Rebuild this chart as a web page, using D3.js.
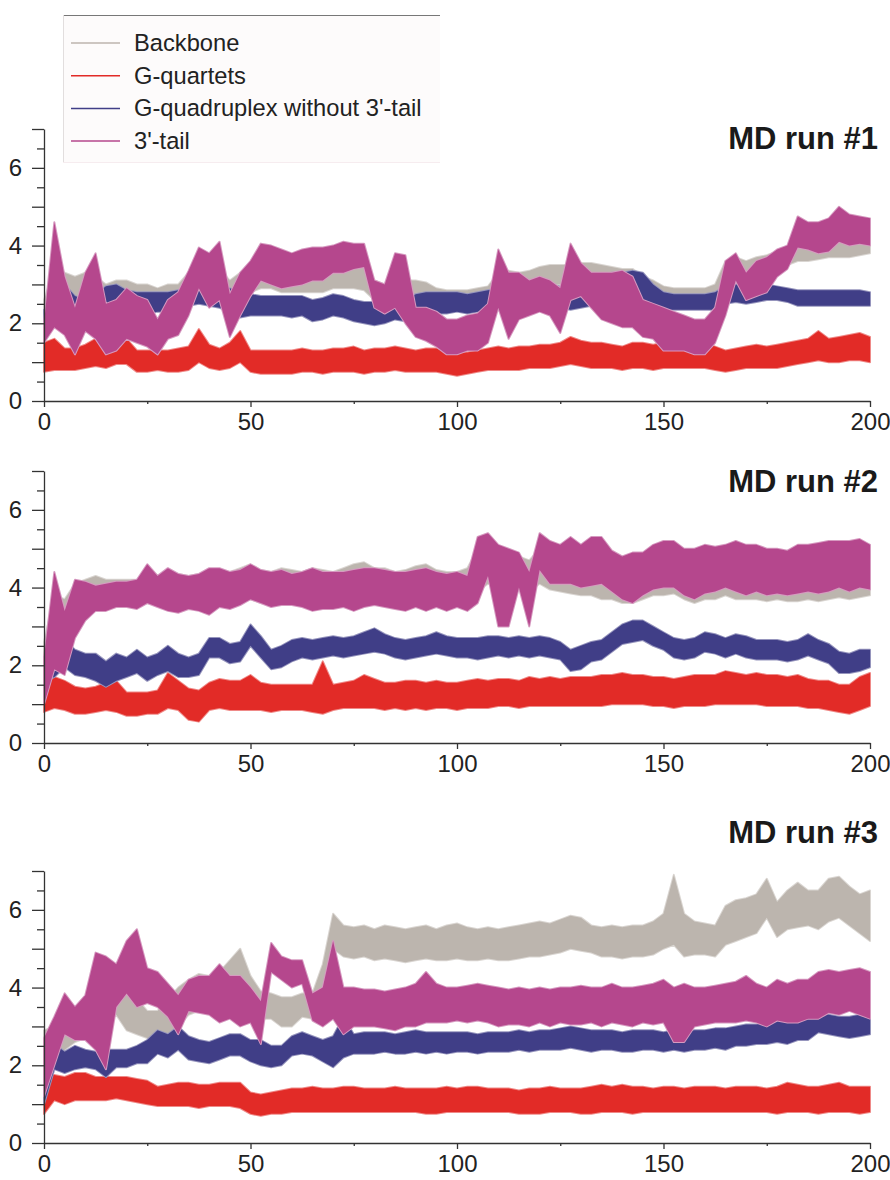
<!DOCTYPE html>
<html>
<head>
<meta charset="utf-8">
<script src="https://d3js.org/d3.v7.min.js"></script>
<style>
body { margin: 0; background: #fff; }
text { font-family: "Liberation Sans", Arial, sans-serif; fill: #222; }
.axis path, .axis line { stroke: #333; stroke-width: 1.3; }
.axis text { font-size: 24px; fill: #222; }
</style>
</head>
<body>
<svg id="chart" width="890" height="1180"></svg>
<script>
// sample times (ns), one value pair (low/high of the trace) every 2.5 ns
var time = d3.range(0, 201, 2.5);
var xTicks = [0, 50, 100, 150, 200];
var yTicks = [0, 2, 4, 6];
var seriesNames = ["Backbone", "G-quartets", "G-quadruplex without 3'-tail", "3'-tail"];
var runTitles = ["MD run #1", "MD run #2", "MD run #3"];

// ---- MD run #1
var run1BackboneLo = [1.9,2.4,2.6,2.6,2.5,2.4,2.3,2.4,2.4,2.4, 2.4,2.3,2.4,2.5,2.6,2.9,2.8,2.7,2.5,2.7, 2.8,2.9,2.9,2.8,2.8,2.8,2.8,2.8,2.9,2.9, 2.9,2.85,2.6,2.6,2.6,2.7,2.7,2.65,2.6,2.6, 2.6,2.6,2.6,2.65,2.8,2.85,2.8,2.85,2.95,3.0, 3.0,3.0,3.1,3.1,3.05,3.0,2.9,2.9,2.8,2.7, 2.6,2.55,2.55,2.55,2.55,2.6,3.0,3.1,3.1,3.15, 3.2,3.3,3.5,3.6,3.6,3.65,3.7,3.7,3.7,3.75, 3.8];
var run1BackboneHi = [2.6,3.4,3.3,3.2,3.3,3.2,3.0,3.1,3.1,3.0, 3.0,2.9,3.0,3.0,3.3,3.6,3.5,3.4,3.1,3.3, 3.5,3.6,3.6,3.5,3.5,3.5,3.45,3.5,3.5,3.5, 3.6,3.5,3.1,3.0,3.05,3.1,3.1,3.05,2.9,2.85, 2.85,2.85,2.9,2.95,3.3,3.35,3.3,3.35,3.45,3.5, 3.5,3.5,3.55,3.55,3.5,3.45,3.4,3.4,3.2,3.1, 2.95,2.9,2.9,2.9,2.9,3.0,3.6,3.7,3.6,3.7, 3.75,3.85,4.0,4.1,4.1,4.2,4.2,4.25,4.3,4.3, 4.3];
var run1QuartetsLo = [0.75,0.8,0.8,0.8,0.85,0.9,0.85,0.95,0.95,0.75, 0.75,0.8,0.75,0.75,0.8,1.0,0.85,0.8,0.85,1.0, 0.75,0.7,0.7,0.7,0.7,0.75,0.75,0.7,0.75,0.75, 0.75,0.7,0.75,0.75,0.8,0.75,0.75,0.75,0.75,0.7, 0.65,0.7,0.75,0.8,0.8,0.8,0.8,0.85,0.85,0.85, 0.9,0.95,0.9,0.85,0.85,0.85,0.8,0.85,0.85,0.8, 0.85,0.85,0.85,0.85,0.85,0.8,0.75,0.8,0.85,0.85, 0.85,0.85,0.9,0.95,1.0,1.05,1.0,1.0,1.05,1.05, 1.0];
var run1QuartetsHi = [1.5,1.6,1.35,1.35,1.45,1.6,1.35,1.7,1.6,1.3, 1.3,1.3,1.3,1.35,1.4,1.85,1.45,1.35,1.5,1.8, 1.3,1.3,1.3,1.3,1.3,1.35,1.3,1.3,1.35,1.35, 1.4,1.3,1.35,1.35,1.4,1.35,1.3,1.35,1.35,1.25, 1.25,1.25,1.3,1.35,1.4,1.35,1.4,1.4,1.45,1.45, 1.5,1.65,1.55,1.5,1.5,1.45,1.4,1.5,1.5,1.45, 1.5,1.55,1.5,1.5,1.5,1.4,1.3,1.35,1.4,1.45, 1.4,1.45,1.5,1.55,1.6,1.8,1.6,1.65,1.7,1.75, 1.65];
var run1QuadruplexLo = [1.55,2.0,2.35,2.2,2.1,2.2,2.35,2.4,2.3,2.25, 2.25,2.3,2.3,2.35,2.45,2.5,2.45,2.4,2.3,2.15, 2.2,2.2,2.2,2.2,2.15,2.2,2.05,2.1,2.2,2.15, 2.05,2.0,1.95,2.0,2.1,2.05,2.2,2.25,2.25,2.25, 2.3,2.25,2.3,2.3,2.35,2.35,2.35,2.35,2.4,2.4, 2.4,2.35,2.4,2.45,2.6,2.6,2.6,2.6,2.55,2.4, 2.35,2.35,2.35,2.35,2.35,2.35,2.5,2.55,2.5,2.55, 2.6,2.6,2.55,2.45,2.45,2.45,2.45,2.45,2.45,2.45, 2.45];
var run1QuadruplexHi = [2.35,2.55,3.0,2.7,2.6,2.75,2.95,3.0,2.85,2.8, 2.8,2.8,2.8,2.85,3.0,3.1,3.0,2.95,2.9,2.8, 2.75,2.7,2.7,2.7,2.7,2.7,2.6,2.65,2.75,2.7, 2.6,2.55,2.55,2.6,2.65,2.6,2.75,2.8,2.8,2.8, 2.8,2.75,2.8,2.85,2.9,2.9,2.9,2.9,2.95,3.0, 2.95,2.95,2.95,3.1,3.25,3.3,3.3,3.35,3.3,3.0, 2.8,2.75,2.75,2.75,2.75,2.8,2.95,3.0,2.95,3.0, 3.0,2.95,2.9,2.85,2.85,2.85,2.85,2.85,2.85,2.85, 2.8];
var run1TailLo = [1.5,1.9,1.7,1.2,1.8,1.6,1.2,1.3,1.6,1.5, 1.4,1.2,1.6,1.7,2.2,2.9,2.4,2.6,1.65,2.2, 2.7,3.1,3.0,2.9,2.95,3.0,3.1,3.1,3.3,3.3, 3.4,3.45,2.4,2.25,2.4,2.0,1.65,1.55,1.4,1.2, 1.2,1.3,1.3,1.5,2.4,1.6,2.1,2.2,2.3,2.2, 1.75,2.6,2.7,2.4,2.1,2.0,1.9,1.9,1.65,1.6, 1.3,1.3,1.3,1.2,1.2,1.5,2.2,3.1,2.6,2.7, 2.8,3.2,3.4,3.95,3.9,3.8,3.85,4.1,4.0,4.05, 4.0];
var run1TailHi = [2.0,4.6,3.2,2.4,3.3,3.8,2.5,2.6,2.9,2.7, 2.6,2.1,2.6,2.8,3.35,3.95,3.8,4.1,2.75,3.3, 3.6,4.05,4.0,3.9,3.8,3.9,3.95,3.95,4.0,4.1, 4.05,4.05,3.1,3.0,3.8,3.75,2.4,2.4,2.3,2.1, 2.1,2.2,2.25,2.5,3.9,3.3,3.3,3.1,3.2,3.1, 2.9,4.05,3.55,3.3,3.3,3.3,3.35,3.2,2.6,2.5, 2.4,2.3,2.2,2.1,2.1,2.4,3.6,3.8,3.3,3.6, 3.7,3.9,4.0,4.75,4.6,4.6,4.7,5.0,4.8,4.75, 4.7];

// ---- MD run #2
var run2BackboneLo = [1.2,2.0,2.6,3.0,3.4,3.6,3.55,3.5,3.5,3.5, 3.6,3.55,3.5,3.5,3.5,3.5,3.45,3.55,3.5,3.6, 3.7,3.6,3.55,3.6,3.6,3.55,3.5,3.55,3.55,3.6, 3.7,3.7,3.6,3.55,3.5,3.5,3.6,3.55,3.5,3.5, 3.55,3.5,3.9,4.1,4.0,4.0,4.0,3.9,4.1,3.95, 3.9,3.85,3.8,3.8,3.7,3.7,3.6,3.6,3.7,3.8, 3.8,3.85,3.7,3.6,3.7,3.7,3.8,3.7,3.7,3.7, 3.65,3.7,3.65,3.65,3.7,3.65,3.7,3.75,3.7,3.75, 3.8];
var run2BackboneHi = [2.6,3.8,3.7,4.1,4.2,4.3,4.2,4.2,4.2,4.2, 4.5,4.3,4.4,4.35,4.3,4.35,4.4,4.45,4.4,4.5, 4.6,4.45,4.4,4.5,4.45,4.4,4.5,4.45,4.4,4.5, 4.6,4.65,4.5,4.5,4.4,4.45,4.55,4.6,4.45,4.4, 4.4,4.5,5.0,5.0,4.8,4.8,4.8,4.7,5.0,4.9, 4.8,4.8,4.7,4.85,4.8,4.6,4.5,4.6,4.7,4.8, 4.9,5.0,4.8,4.7,4.8,4.8,4.8,4.9,4.9,4.8, 4.75,4.8,4.7,4.8,4.8,4.8,4.8,4.9,4.8,4.85, 4.7];
var run2QuartetsLo = [0.8,0.9,0.85,0.75,0.75,0.8,0.85,0.8,0.7,0.7, 0.75,0.75,0.9,0.85,0.6,0.55,0.85,0.9,0.85,0.85, 0.85,0.85,0.8,0.85,0.85,0.85,0.8,0.75,0.85,0.9, 0.9,0.9,0.9,0.85,0.9,0.85,0.9,0.85,0.9,0.9, 0.85,0.9,0.9,0.9,0.95,0.95,0.9,0.95,0.95,0.95, 0.95,0.95,0.95,0.95,0.95,1.0,1.0,1.0,1.0,0.95, 0.95,0.9,0.95,0.95,0.95,1.0,1.0,1.0,1.0,1.0, 0.95,0.95,0.95,0.95,0.9,0.9,0.85,0.8,0.75,0.85, 0.95];
var run2QuartetsHi = [1.4,1.7,1.6,1.45,1.4,1.45,1.55,1.6,1.3,1.3, 1.3,1.35,1.8,1.6,1.4,1.35,1.55,1.65,1.6,1.6, 1.75,1.55,1.5,1.5,1.5,1.5,1.5,2.1,1.5,1.55, 1.6,1.75,1.65,1.55,1.55,1.6,1.6,1.55,1.6,1.55, 1.55,1.6,1.65,1.6,1.65,1.65,1.6,1.7,1.65,1.7, 1.65,1.7,1.7,1.7,1.75,1.75,1.8,1.75,1.75,1.7, 1.7,1.65,1.7,1.75,1.75,1.75,1.85,1.8,1.75,1.8, 1.75,1.75,1.7,1.75,1.65,1.6,1.6,1.5,1.5,1.7, 1.8];
var run2QuadruplexLo = [1.6,1.7,1.95,1.75,1.7,1.6,1.45,1.6,1.7,1.8, 1.6,1.75,1.85,1.7,1.7,1.75,2.2,2.2,2.05,2.1, 2.5,2.2,1.9,1.95,2.1,2.2,2.15,2.2,2.25,2.2, 2.25,2.3,2.35,2.3,2.2,2.15,2.2,2.25,2.3,2.25, 2.2,2.2,2.15,2.2,2.25,2.2,2.25,2.2,2.25,2.2, 2.15,1.85,1.9,2.1,2.15,2.35,2.55,2.6,2.65,2.5, 2.4,2.2,2.15,2.2,2.35,2.3,2.2,2.3,2.2,2.15, 2.15,2.15,2.1,2.15,2.25,2.15,2.05,1.8,1.8,1.85, 1.95];
var run2QuadruplexHi = [2.2,2.5,2.65,2.4,2.3,2.3,2.1,2.3,2.2,2.4, 2.2,2.3,2.5,2.3,2.2,2.3,2.7,2.7,2.55,2.6, 3.05,2.75,2.4,2.5,2.65,2.7,2.65,2.7,2.75,2.7, 2.75,2.85,2.95,2.8,2.7,2.65,2.7,2.75,2.85,2.75, 2.7,2.7,2.7,2.75,2.75,2.7,2.75,2.7,2.75,2.7, 2.6,2.4,2.5,2.6,2.65,2.85,3.05,3.15,3.15,3.0, 2.85,2.7,2.65,2.7,2.85,2.8,2.7,2.8,2.75,2.65, 2.65,2.65,2.6,2.65,2.8,2.65,2.55,2.35,2.3,2.4, 2.4];
var run2TailLo = [1.0,1.9,1.75,2.7,3.15,3.4,3.4,3.5,3.5,3.45, 3.6,3.5,3.4,3.35,3.45,3.4,3.3,3.5,3.45,3.55, 3.7,3.6,3.5,3.55,3.55,3.5,3.4,3.45,3.45,3.5, 3.4,3.5,3.55,3.5,3.45,3.4,3.5,3.4,3.5,3.4, 3.5,3.4,3.6,4.3,3.0,3.0,4.0,3.0,4.45,4.1, 4.1,4.1,4.0,4.05,4.1,3.9,3.7,3.6,3.8,3.95, 4.0,4.0,3.8,3.7,3.85,3.9,4.0,3.9,3.8,3.9, 3.8,3.85,3.8,3.85,3.9,3.85,3.9,4.0,3.9,4.0, 3.95];
var run2TailHi = [2.2,4.4,3.4,4.2,4.15,4.05,4.1,4.15,4.15,4.2, 4.6,4.3,4.5,4.35,4.3,4.35,4.5,4.5,4.4,4.45, 4.6,4.45,4.4,4.45,4.35,4.4,4.5,4.4,4.4,4.4, 4.45,4.5,4.5,4.45,4.4,4.4,4.45,4.5,4.4,4.35, 4.4,4.3,5.3,5.4,5.1,5.0,4.9,4.4,5.4,5.2, 5.1,5.3,5.1,5.3,5.3,4.95,4.8,4.9,4.9,5.1, 5.2,5.2,5.0,5.0,5.1,5.05,5.1,5.2,5.1,5.1, 5.0,5.0,4.95,5.1,5.1,5.15,5.2,5.2,5.2,5.25, 5.1];

// ---- MD run #3
var run3BackboneLo = [1.3,2.15,2.4,2.6,2.7,2.8,3.2,3.3,2.9,2.8, 2.7,2.65,2.8,3.0,3.3,3.4,3.35,3.3,3.4,3.5, 3.3,3.2,3.2,3.0,3.0,3.25,3.2,3.7,5.0,4.8, 4.75,4.8,4.7,4.75,4.7,4.65,4.7,4.75,4.7,4.7, 4.75,4.7,4.7,4.75,4.7,4.7,4.75,4.8,4.8,4.85, 4.9,5.0,4.95,4.9,4.8,4.8,4.75,4.8,4.8,4.85, 5.0,5.1,4.8,4.85,4.85,4.8,5.1,5.2,5.3,5.4, 5.8,5.3,5.5,5.55,5.6,5.5,5.7,5.8,5.6,5.4, 5.2];
var run3BackboneHi = [2.9,3.0,3.3,3.5,3.6,3.85,4.05,4.0,3.8,3.7, 3.4,3.4,3.7,4.0,4.2,4.35,4.3,4.4,4.7,5.0, 4.3,3.9,3.85,3.75,3.75,3.85,3.85,4.6,5.9,5.6, 5.55,5.6,5.5,5.6,5.55,5.5,5.55,5.6,5.5,5.6, 5.65,5.55,5.5,5.55,5.5,5.55,5.6,5.65,5.7,5.65, 5.75,5.85,5.8,5.6,5.55,5.6,5.55,5.6,5.6,5.7, 5.9,6.9,5.9,5.7,5.65,5.6,6.1,6.25,6.3,6.4, 6.8,6.2,6.5,6.7,6.5,6.5,6.8,6.85,6.6,6.4, 6.5];
var run3QuartetsLo = [0.75,1.1,1.0,1.1,1.1,1.1,1.1,1.15,1.1,1.05, 1.0,0.95,0.95,0.95,0.95,0.9,0.95,0.95,0.95,0.9, 0.75,0.7,0.75,0.75,0.8,0.8,0.8,0.8,0.8,0.8, 0.8,0.8,0.8,0.8,0.8,0.8,0.8,0.75,0.75,0.8, 0.8,0.8,0.8,0.8,0.8,0.8,0.75,0.75,0.75,0.8, 0.8,0.8,0.75,0.75,0.8,0.8,0.8,0.75,0.8,0.8, 0.8,0.8,0.8,0.8,0.8,0.8,0.8,0.8,0.8,0.8, 0.8,0.75,0.8,0.8,0.8,0.75,0.8,0.8,0.8,0.75, 0.8];
var run3QuartetsHi = [1.8,1.75,1.7,1.8,1.8,1.7,1.7,1.7,1.7,1.65, 1.6,1.45,1.5,1.55,1.55,1.5,1.5,1.55,1.55,1.55, 1.3,1.25,1.3,1.35,1.4,1.4,1.45,1.4,1.4,1.45, 1.45,1.4,1.4,1.4,1.45,1.4,1.4,1.4,1.4,1.45, 1.4,1.45,1.45,1.4,1.4,1.4,1.35,1.4,1.4,1.45, 1.4,1.4,1.4,1.45,1.5,1.45,1.5,1.45,1.45,1.4, 1.45,1.45,1.4,1.45,1.45,1.45,1.4,1.45,1.45,1.45, 1.4,1.45,1.55,1.5,1.45,1.45,1.5,1.55,1.45,1.45, 1.45];
var run3QuadruplexLo = [1.0,1.9,1.8,1.9,1.95,1.9,1.7,1.95,1.95,2.05, 2.05,2.3,2.2,2.4,2.15,2.1,2.05,2.15,2.25,2.25, 2.1,2.0,1.95,2.0,2.25,2.3,2.25,2.1,1.95,2.2, 2.3,2.3,2.3,2.35,2.3,2.3,2.35,2.3,2.35,2.3, 2.35,2.35,2.3,2.35,2.35,2.35,2.4,2.35,2.4,2.4, 2.4,2.45,2.4,2.35,2.4,2.4,2.35,2.35,2.4,2.4, 2.35,2.4,2.35,2.4,2.4,2.45,2.4,2.5,2.5,2.55, 2.55,2.6,2.55,2.65,2.65,2.85,2.8,2.75,2.7,2.75, 2.8];
var run3QuadruplexHi = [2.2,2.55,2.35,2.5,2.4,2.35,2.4,2.4,2.4,2.5, 2.65,2.9,2.8,3.0,2.75,2.65,2.6,2.7,2.8,2.8, 2.65,2.65,2.5,2.5,2.75,2.85,2.75,2.65,2.75,3.25, 2.8,2.85,2.85,2.85,2.8,2.85,2.9,2.85,2.85,2.85, 2.85,2.85,2.8,2.85,2.85,2.85,2.9,2.85,2.9,2.9, 2.95,3.0,2.95,2.9,2.9,2.9,2.85,2.9,2.9,2.9, 2.85,2.9,2.85,2.9,2.9,2.95,2.95,3.0,3.05,3.05, 3.1,3.15,3.1,3.2,3.25,3.4,3.3,3.25,3.25,3.3, 3.25];
var run3TailLo = [1.2,2.0,2.8,2.65,2.65,2.4,1.9,3.5,3.85,3.5, 3.6,3.5,3.25,2.8,3.4,3.35,3.3,3.1,3.2,3.0, 3.1,2.55,4.4,4.2,4.0,4.1,3.15,3.0,3.2,2.8, 3.0,3.0,3.0,2.95,2.9,3.0,3.0,3.1,3.1,3.1, 3.15,3.1,3.15,3.1,3.0,3.05,3.05,3.0,3.1,3.0, 3.1,3.05,3.05,3.1,3.0,3.1,3.05,3.0,3.1,3.05, 3.1,2.6,2.6,3.0,3.05,3.1,3.1,3.1,3.15,3.1, 3.0,3.15,3.1,3.1,3.2,3.2,3.35,3.3,3.4,3.3, 3.2];
var run3TailHi = [2.7,3.25,3.85,3.5,3.8,4.9,4.8,4.6,5.2,5.5, 4.5,4.4,4.1,3.8,4.2,4.3,4.3,4.6,4.3,4.3, 4.0,3.65,5.15,4.8,4.7,4.7,3.85,4.0,5.2,4.0, 4.0,3.95,3.95,3.9,3.95,4.0,4.1,4.4,4.1,4.0, 4.0,4.05,4.1,4.05,4.0,3.95,4.0,3.95,4.0,3.95, 4.0,4.0,4.05,4.0,4.0,4.1,4.0,4.0,4.05,4.1, 4.2,4.0,4.1,4.0,4.0,4.05,4.1,4.15,4.3,4.1, 4.0,4.2,4.1,4.2,4.2,4.4,4.45,4.4,4.45,4.5, 4.4];

// colours in legend order
var colors = ["#bcb5ae", "#e22b27", "#403e87", "#b5478d"];

var runs = [
  { title: runTitles[0], series: [[run1BackboneLo, run1BackboneHi], [run1QuartetsLo, run1QuartetsHi], [run1QuadruplexLo, run1QuadruplexHi], [run1TailLo, run1TailHi]] },
  { title: runTitles[1], series: [[run2BackboneLo, run2BackboneHi], [run2QuartetsLo, run2QuartetsHi], [run2QuadruplexLo, run2QuadruplexHi], [run2TailLo, run2TailHi]] },
  { title: runTitles[2], series: [[run3BackboneLo, run3BackboneHi], [run3QuartetsLo, run3QuartetsHi], [run3QuadruplexLo, run3QuadruplexHi], [run3TailLo, run3TailHi]] }
];

var svg = d3.select("#chart");

// panel geometry (pixel rows of y = 0 and y = 7, title baseline)
var panels = [
  { bottom: 401, top: 129, titleY: 149 },
  { bottom: 743, top: 471, titleY: 492 },
  { bottom: 1143, top: 871, titleY: 843 }
];

var x = d3.scaleLinear().domain([0, 200]).range([44, 870]);

runs.forEach(function(run, p) {
  var geo = panels[p];
  var y = d3.scaleLinear().domain([0, 7]).range([geo.bottom, geo.top]);
  var g = svg.append("g");

  var area = d3.area()
    .x(function(d, i) { return x(time[i]); })
    .y0(function(d) { return y(d[0]); })
    .y1(function(d) { return y(d[1]); });

  run.series.forEach(function(s, k) {
    // light fringe like the thin noisy edge of the traces
    g.append("path")
      .datum(d3.zip(s[0], s[1]))
      .attr("d", area)
      .attr("fill", "none")
      .attr("stroke", d3.interpolateRgb(colors[k], "#fff")(0.45))
      .attr("stroke-width", 2)
      .attr("stroke-linejoin", "round");
    g.append("path")
      .datum(d3.zip(s[0], s[1]))
      .attr("d", area)
      .attr("fill", colors[k]);
  });

  // y axis: ticks every 0.5, long at integers, labels at even values
  var yAxis = g.append("g")
    .attr("class", "axis")
    .attr("transform", "translate(" + x(0) + ",0)")
    .call(d3.axisLeft(y)
      .tickValues(d3.range(0, 7.01, 0.5))
      .tickSize(12)
      .tickSizeOuter(0)
      .tickPadding(10)
      .tickFormat(function(d) { return yTicks.indexOf(d) >= 0 ? d : ""; }));
  yAxis.selectAll(".tick line")
    .attr("x2", function(d) { return d % 1 === 0 ? -12 : -7; });

  // x axis: major ticks every 50, minor every 25
  var xAxis = g.append("g")
    .attr("class", "axis")
    .attr("transform", "translate(0," + geo.bottom + ")")
    .call(d3.axisBottom(x)
      .tickValues(d3.range(0, 201, 25))
      .tickSize(6)
      .tickSizeOuter(0)
      .tickPadding(6)
      .tickFormat(function(d) { return xTicks.indexOf(d) >= 0 ? d : ""; }));
  xAxis.selectAll(".tick line")
    .attr("y2", function(d) { return xTicks.indexOf(d) >= 0 ? 6 : 3; });

  g.append("text")
    .attr("x", 878)
    .attr("y", geo.titleY)
    .attr("text-anchor", "end")
    .style("font-size", "31px")
    .style("font-weight", "bold")
    .style("fill", "#1a1a1a")
    .text(run.title);
});

// legend
var legend = svg.append("g");
legend.append("rect")
  .attr("x", 63).attr("y", 15).attr("width", 377).attr("height", 148)
  .attr("fill", "#fdfbfb");
legend.append("line")
  .attr("x1", 63).attr("x2", 440).attr("y1", 15.5).attr("y2", 15.5)
  .attr("stroke", "#777").attr("stroke-width", 1);
legend.append("line")
  .attr("x1", 63.5).attr("x2", 63.5).attr("y1", 15).attr("y2", 163)
  .attr("stroke", "#e2dede").attr("stroke-width", 1);
legend.append("line")
  .attr("x1", 63).attr("x2", 440).attr("y1", 162.5).attr("y2", 162.5)
  .attr("stroke", "#f6ecef").attr("stroke-width", 1);

seriesNames.forEach(function(name, k) {
  var ly = 43 + k * 32.7;
  legend.append("line")
    .attr("x1", 71).attr("x2", 120).attr("y1", ly).attr("y2", ly)
    .attr("stroke", colors[k]).attr("stroke-width", 1.5);
  legend.append("text")
    .attr("x", 134).attr("y", ly)
    .attr("dominant-baseline", "central")
    .style("font-size", "23.7px")
    .text(name);
});
</script>
</body>
</html>
